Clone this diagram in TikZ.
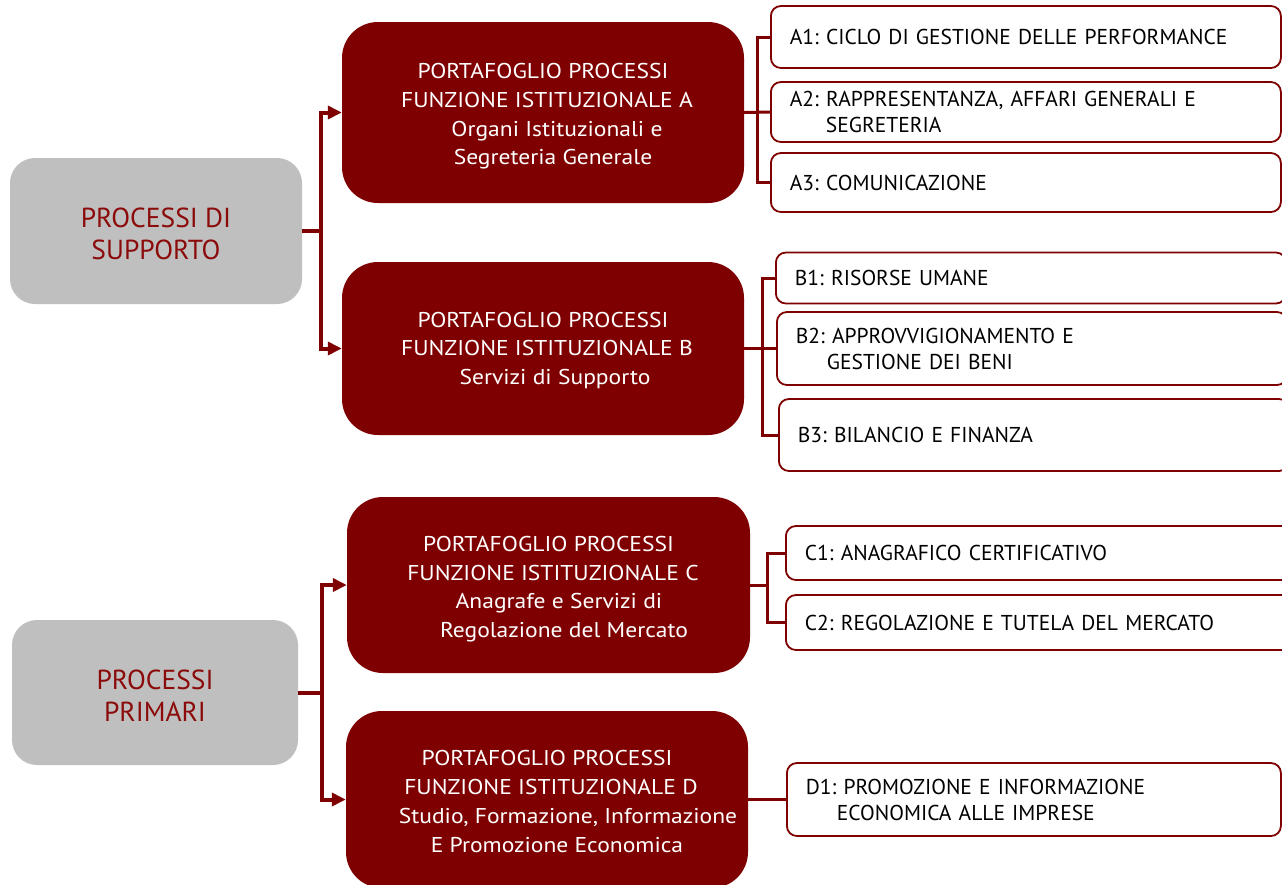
\documentclass[tikz,border=0pt]{standalone}
\usepackage{fontspec}
\setmainfont{PT Sans}
\newfontfamily\portfont[FakeStretch=1.1]{PT Sans}
\usetikzlibrary{arrows.meta}
\definecolor{maroon}{HTML}{7F0000}
\definecolor{grayb}{HTML}{BFBFBF}
\definecolor{dtext}{HTML}{8B0A0A}
\frenchspacing
\begin{document}
\begin{tikzpicture}[x=1pt,y=-1pt,
 grp/.style={fill=grayb, rounded corners=25pt, inner sep=0pt},
 grptext/.style={inner sep=0pt, text=dtext, align=center, font=\fontsize{27.5}{31.5}\selectfont},
 port/.style={fill=maroon, rounded corners=36pt, inner sep=0pt},
 porttext/.style={inner sep=0pt, text=white, align=center, font=\portfont\fontsize{21.4}{28.7}\selectfont},
 item/.style={draw=maroon, line width=1.8pt, fill=white, rounded corners=10pt, inner xsep=19pt, inner ysep=0pt, align=left, anchor=west, font=\fontsize{21.5}{26}\selectfont, text=black},
 arr/.style={draw=maroon, line width=4pt, -{Triangle[length=14pt,width=13pt]}},
 lnk/.style={draw=maroon, line width=3pt}]
\useasboundingbox (0,0) rectangle (1282,884);
% left group boxes
\node[grp, minimum width=292, minimum height=146] (g1) at (156,231) {};
\node[grptext] (tg1) at ([yshift=-3pt]g1.center) {PROCESSI DI\\SUPPORTO};
\node[grp, minimum width=286, minimum height=145] (g2) at (155,692.5) {};
\node[grptext] (tg2) at ([yshift=-3pt]g2.center) {PROCESSI\\PRIMARI};
% portfolio boxes
\node[port, minimum width=402, minimum height=181] (ra) at (543,112.5) {};
\node[porttext] (ta) at ([yshift=-4pt]ra.center) {PORTAFOGLIO PROCESSI\\\hspace*{8pt}FUNZIONE ISTITUZIONALE A\\\hspace*{28pt}Organi Istituzionali e\\\hspace*{20pt}Segreteria Generale};
\node[port, minimum width=402, minimum height=173] (rb) at (543,348.5) {};
\node[porttext] (tb) at ([yshift=-2pt]rb.center) {PORTAFOGLIO PROCESSI\\\hspace*{8pt}FUNZIONE ISTITUZIONALE B\\\hspace*{24pt}Servizi di Supporto};
\node[port, minimum width=403, minimum height=176] (rc) at (548.5,585) {};
\node[porttext] (tc) at ([yshift=-4pt]rc.center) {PORTAFOGLIO PROCESSI\\\hspace*{9pt}FUNZIONE ISTITUZIONALE C\\\hspace*{21pt}Anagrafe e Servizi di\\\hspace*{31pt}Regolazione del Mercato};
\node[port, minimum width=402, minimum height=177] (rd) at (547,799.5) {};
\node[porttext] (td) at ([yshift=-2pt]rd.center) {PORTAFOGLIO PROCESSI\\\hspace*{8pt}FUNZIONE ISTITUZIONALE D\\\hspace*{42pt}Studio, Formazione, Informazione\\\hspace*{20pt}E Promozione Economica};
% items
\node[item, text width=472, minimum height=62] (a1) at (770,37) {A1: CICLO DI GESTIONE DELLE PERFORMANCE};
\node[item, text width=472, minimum height=60] (a2) at (770,112) {A2: RAPPRESENTANZA, AFFARI GENERALI E\\\hspace*{36pt}SEGRETERIA};
\node[item, text width=472, minimum height=59] (a3) at (770,182.5) {A3: COMUNICAZIONE};
\node[item, text width=472, minimum height=51] (b1) at (775,278) {B1: RISORSE UMANE};
\node[item, text width=472, minimum height=73] (b2) at (776,348.5) {B2: APPROVVIGIONAMENTO E\\\hspace*{31pt}GESTIONE DEI BENI};
\node[item, text width=472, minimum height=72] (b3) at (778,435) {B3: BILANCIO E FINANZA};
\node[item, text width=472, minimum height=54] (c1) at (785,553) {C1: ANAGRAFICO CERTIFICATIVO};
\node[item, text width=472, minimum height=55] (c2) at (785,622.5) {C2: REGOLAZIONE E TUTELA DEL MERCATO};
\node[item, text width=456, minimum height=73] (d1) at (786,799.5) {D1: PROMOZIONE E INFORMAZIONE\\\hspace*{31pt}ECONOMICA ALLE IMPRESE};
% left connectors
\draw[arr] (g1.east) -- ++(19,0) coordinate (j1) |- (ra.west);
\draw[arr] (j1) |- (rb.west);
\draw[arr] (g2.east) -- ++(24,0) coordinate (j2) |- (rc.west);
\draw[arr] (j2) |- (rd.west);
% right connectors
\draw[lnk] (ra.east) -- (a2.west);
\draw[lnk] (ra.east) ++(13,0) coordinate (ka) |- (a1.west);
\draw[lnk] (ka) |- (a3.west);
\draw[lnk] (rb.east) -- (b2.west);
\draw[lnk] (rb.east) ++(18,0) coordinate (kb) |- (b1.west);
\draw[lnk] (kb) |- (b3.west);
\draw[lnk] (rc.east) -- ++(17,0) coordinate (kc) |- (c1.west);
\draw[lnk] (kc) |- (c2.west);
\draw[lnk] (rd.east) -- (d1.west);
\end{tikzpicture}
\end{document}
